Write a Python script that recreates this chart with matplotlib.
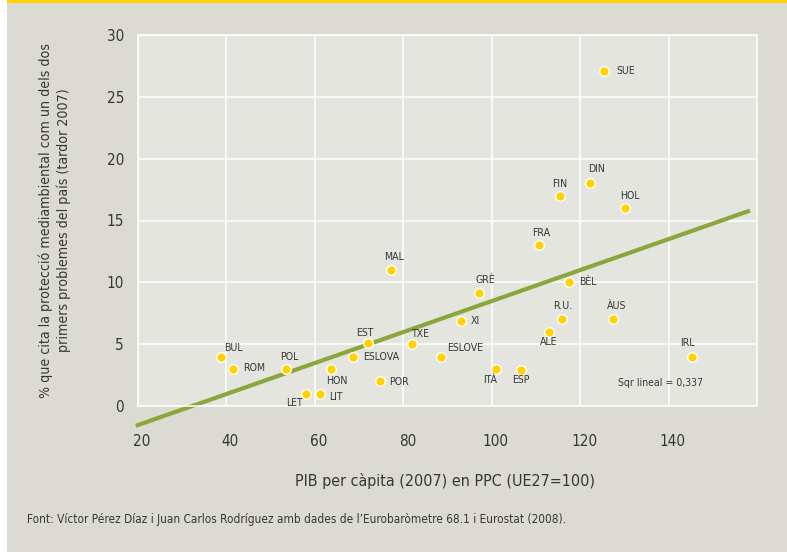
import matplotlib
matplotlib.use("Agg")
import matplotlib.pyplot as plt
from matplotlib.transforms import ScaledTranslation
from matplotlib.patches import Rectangle

# donnees
pays = ["SUE", "DIN", "FIN", "HOL", "FRA", "MAL", "BÈL", "GRÈ", "XI", "R.U.",
        "ÀUS", "ALE", "IRL", "ESLOVE", "ITÀ", "ESP", "BUL", "ROM", "POL", "HON",
        "ESLOVA", "EST", "TXE", "POR", "LET", "LIT"]
pib = [125.3, 122.2, 115.4, 130.1, 110.8, 77.3, 117.5, 97.1, 93.0, 115.8,
       127.4, 112.9, 145.2, 88.6, 101.0, 106.7, 38.8, 41.5, 53.4, 63.7,
       68.7, 72.0, 82.0, 74.8, 58.0, 61.2]
medi = [27.1, 18.0, 17.0, 16.0, 13.0, 11.0, 10.0, 9.1, 6.9, 7.0,
        7.0, 6.0, 4.0, 4.0, 3.0, 2.9, 4.0, 3.0, 3.0, 3.0,
        4.0, 5.1, 5.0, 2.0, 1.0, 1.0]
recta_x = [19.5, 158.4]
recta_y = [-1.6, 15.8]
xticks = [20, 40, 60, 80, 100, 120, 140]
yticks = [0, 5, 10, 15, 20, 25, 30]

# position des etiquettes (decalage en pixels, alignement)
decalage = {
    "SUE": (13, 0, "left"), "DIN": (7, 14, "center"), "FIN": (0, 12, "center"),
    "HOL": (5, 12, "center"), "FRA": (2, 12, "center"), "MAL": (3, 13, "center"),
    "BÈL": (10, 0, "left"), "GRÈ": (6, 13, "center"), "XI": (10, 0, "left"),
    "R.U.": (1, 13, "center"), "ÀUS": (4, 13, "center"), "ALE": (0, -10, "center"),
    "IRL": (-4, 14, "center"), "ESLOVE": (6, 9, "left"), "ITÀ": (-6, -11, "center"),
    "ESP": (0, -10, "center"), "BUL": (3, 9, "left"), "ROM": (10, 1, "left"),
    "POL": (4, 12, "center"), "HON": (6, -12, "center"), "ESLOVA": (10, 0, "left"),
    "EST": (-3, 10, "center"), "TXE": (8, 10, "center"), "POR": (9, -1, "left"),
    "LET": (-12, -9, "center"), "LIT": (9, -3, "left"),
}

# DejaVu Sans en version etroite
plt.rcParams["font.family"] = ["DejaVu Sans"]
plt.rcParams["font.stretch"] = "condensed"
gris = "#363636"

fig = plt.figure(figsize=(7.87, 5.52), dpi=100)
fig.patch.set_facecolor("#dcdbd3")
# bande blanche a gauche et filet jaune en haut
fig.add_artist(Rectangle((0, 0), 7 / 787, 1, transform=fig.transFigure,
                         facecolor="white", edgecolor="none"))
fig.add_artist(Rectangle((7 / 787, 1 - 3 / 552), 1, 3 / 552, transform=fig.transFigure,
                         facecolor="#ffd200", edgecolor="none"))

ax = fig.add_axes([138 / 787, 1 - 406 / 552, 619 / 787, 371 / 552])
ax.set_facecolor("#e5e5e0")
ax.set_xlim(20, 160)
ax.set_ylim(0, 30)
ax.set_xticks(xticks)
ax.set_yticks(yticks)
ax.grid(True, color="white", linewidth=1.1)
ax.set_axisbelow(True)
for s in ax.spines.values():
    s.set_color("white")
    s.set_linewidth(1.1)
ax.tick_params(length=0, labelsize=11, labelcolor=gris)
ax.tick_params(axis="x", pad=20)
ax.tick_params(axis="y", pad=10)
for lab in ax.get_xticklabels():
    lab.set_transform(lab.get_transform() + ScaledTranslation(4 / 100, 0, fig.dpi_scale_trans))

ax.plot(recta_x, recta_y, color="#8ba73a", linewidth=3, clip_on=False, zorder=2,
        solid_capstyle="butt")
ax.scatter(pib, medi, s=48, color="#ffd200", edgecolors="white", linewidths=1, zorder=3)

for nom, x, y in zip(pays, pib, medi):
    dx, dy, ha = decalage[nom]
    ax.annotate(nom, (x, y), xytext=(dx * 0.72, dy * 0.72), textcoords="offset points",
                ha=ha, va="center", fontsize=7.6, color=gris, zorder=4)

fig.text(660 / 787, 1 - 383 / 552, "Sqr lineal = 0,337",
         ha="center", va="center", fontsize=7.6, color=gris)

fig.text(445 / 787, 1 - 481 / 552, "PIB per càpita (2007) en PPC (UE27=100)",
         ha="center", va="center", fontsize=11.5, color=gris)
fig.text(55 / 787, 1 - 220 / 552,
         "% que cita la protecció mediambiental com un dels dos\nprimers problemes del país (tardor 2007)",
         ha="center", va="center", rotation=90, fontsize=10.2, color=gris, linespacing=1.3)
fig.text(27 / 787, 1 - 520 / 552,
         "Font: Víctor Pérez Díaz i Juan Carlos Rodríguez amb dades de l’Eurobaròmetre 68.1 i Eurostat (2008).",
         ha="left", va="center", fontsize=8.5, color=gris)

fig.savefig("out.png", dpi=100, facecolor=fig.get_facecolor())
